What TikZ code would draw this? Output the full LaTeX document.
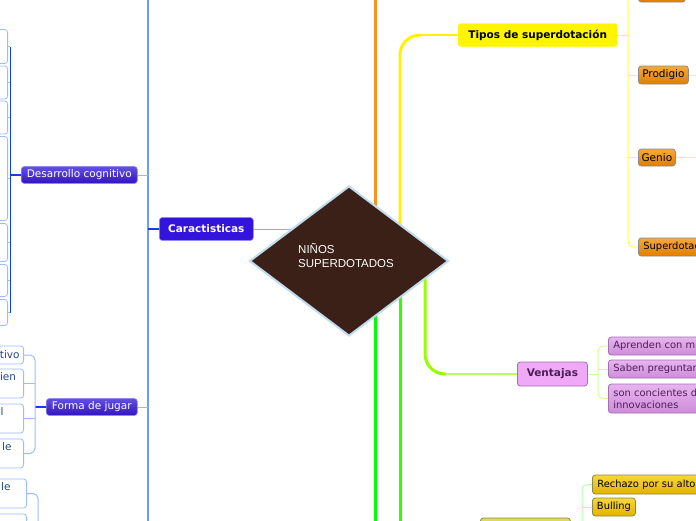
\documentclass[tikz,border=0pt]{standalone}
\usepackage{fontspec}
\newfontfamily\vfont{DejaVu Sans}
\newfontfamily\afont{Liberation Sans}
\usetikzlibrary{shapes.geometric}
\pgfdeclarelayer{bg}
\pgfsetlayers{bg,main}
\definecolor{spineblue}{HTML}{6F9BFF}
\definecolor{darkblue}{HTML}{0F3FF0}
\definecolor{boxblue}{HTML}{9DBBFF}
\definecolor{lbtext}{HTML}{24488A}
\definecolor{catfill}{HTML}{3413DD}
\definecolor{purtop}{HTML}{6150E2}
\definecolor{purbot}{HTML}{3414BE}
\definecolor{purdraw}{HTML}{8C8CF0}
\definecolor{diafill}{HTML}{3A2016}
\definecolor{diadraw}{HTML}{C0DAEE}
\definecolor{orline}{HTML}{F7941D}
\definecolor{yelline}{HTML}{FFF200}
\definecolor{ythin}{HTML}{FFFF50}
\definecolor{grA}{HTML}{00FF00}
\definecolor{grB}{HTML}{33FF00}
\definecolor{grC}{HTML}{99FF00}
\definecolor{gthin}{HTML}{CCFF99}
\definecolor{bthin}{HTML}{B8FFB0}
\definecolor{ortop}{HTML}{F7A83A}
\definecolor{orbot}{HTML}{E07E00}
\definecolor{grayb}{HTML}{8A8A8A}
\definecolor{tipfill}{HTML}{FFF500}
\definecolor{venfill}{HTML}{EFA9F6}
\definecolor{vendraw}{HTML}{A070B0}
\definecolor{ventext}{HTML}{4E1E5A}
\definecolor{vctop}{HTML}{E8B4F0}
\definecolor{vcbot}{HTML}{CE8CD8}
\definecolor{gotop}{HTML}{F7D838}
\definecolor{gobot}{HTML}{E2B200}
\definecolor{olivec}{HTML}{8C8A40}
\definecolor{olfill}{HTML}{E0D860}
\tikzset{
  bx/.style={font=\vfont\fontsize{10.5}{13}\selectfont, rounded corners=3pt, inner sep=0pt, anchor=west},
  smallbx/.style={bx, font=\vfont\fontsize{9.9}{12}\selectfont},
  boldbx/.style={bx, font=\vfont\bfseries\fontsize{10.5}{13}\selectfont},
  catbox/.style={boldbx, fill=catfill, draw=purdraw, line width=0.6pt, text=white},
  purbox/.style={bx, top color=purtop, bottom color=purbot, draw=purdraw, line width=0.6pt, text=white},
  lbox/.style={bx, anchor=east, fill=white, draw=boxblue, line width=0.8pt, text=lbtext, align=right},
  orbox/.style={bx, top color=ortop, bottom color=orbot, draw=grayb, line width=0.8pt, text=black},
  tipbox/.style={boldbx, fill=tipfill, draw=tipfill, text=black},
  venbox/.style={boldbx, fill=venfill, draw=vendraw, line width=0.8pt, text=ventext},
  vcbox/.style={smallbx, top color=vctop, bottom color=vcbot, draw=vendraw, line width=0.8pt, text=ventext, align=left, text width=110pt, inner xsep=5pt},
  gobox/.style={smallbx, top color=gotop, bottom color=gobot, draw=olivec, line width=0.8pt, text=black},
  thick3/.style={line width=3pt},
}
\begin{document}
\begin{tikzpicture}[x=1pt,y=-1pt]
\useasboundingbox (0,0) rectangle (696,520);
\clip (0,0) rectangle (696,520);

% central node
\node[diamond, draw=diadraw, fill=diafill, line width=2pt, minimum width=199pt, minimum height=150pt, inner sep=0pt] (dia) at (349,261) {};
\node[font=\afont\fontsize{11.5}{14}\selectfont, text=white, align=left, anchor=west, inner sep=0pt] (title) at (298,255.5) {NIÑOS\\SUPERDOTADOS};

% left side
\node[catbox, minimum width=94pt, minimum height=23pt] (car) at (159,229) {Caractisticas};
\node[purbox, minimum width=116pt, minimum height=17pt] (des) at (21,175) {Desarrollo cognitivo};
\node[purbox, minimum width=91pt, minimum height=17pt] (for) at (46,407) {Forma de jugar};

\node[lbox, minimum width=50pt, minimum height=34pt] (d1) at (8,46.5) {};
\node[lbox, minimum width=50pt, minimum height=33pt] (d2) at (8,82.5) {};
\node[lbox, minimum width=50pt, minimum height=33pt] (d3) at (8,117.5) {};
\node[lbox, minimum width=50pt, minimum height=84pt] (d4) at (8,178.5) {};
\node[lbox, minimum width=50pt, minimum height=38pt] (d5) at (8,242.5) {};
\node[lbox, minimum width=50pt, minimum height=32pt] (d6) at (8,280.5) {};
\node[lbox, minimum width=50pt, minimum height=26pt] (d7) at (8,312.5) {};

\node[lbox, text width=50pt, inner xsep=4pt, minimum height=18pt] (f1) at (24,355) {tivo};
\node[lbox, text width=50pt, inner xsep=4pt, minimum height=29pt] (f2) at (24,383.5) {ien\rule{3.5pt}{0pt}\\\mbox{}};
\node[lbox, text width=50pt, inner xsep=4pt, minimum height=29pt] (f3) at (24,418.5) {l\rule{16pt}{0pt}\\\mbox{}};
\node[lbox, text width=50pt, inner xsep=4pt, minimum height=29pt] (f4) at (24,453.5) {le\rule{8pt}{0pt}\\\mbox{}};
\node[lbox, text width=50pt, inner xsep=4pt, minimum height=29pt] (b1) at (27,493.5) {le\rule{12pt}{0pt}\\\mbox{}};
\node[lbox, minimum width=50pt, minimum height=29pt] (b2) at (27,528.5) {};

% right side
\node[tipbox, minimum width=159pt, minimum height=23pt] (tip) at (458,35) {Tipos de superdotación};
\node[orbox, minimum width=47pt, minimum height=18pt] (or0) at (638,-7) {};
\node[orbox, minimum width=50pt, minimum height=18pt] (pro) at (638,75) {Prodigio};
\node[orbox, minimum width=37pt, minimum height=17pt] (gen) at (638,157.5) {Genio};
\node[orbox, smallbx, text width=80pt, align=left, inner xsep=5pt, minimum height=18pt] (sup) at (638,247) {Superdotac};

\node[venbox, minimum width=70pt, minimum height=24pt] (ven) at (517,374) {Ventajas};
\node[vcbox, minimum height=18pt] (apr) at (608,346) {Aprenden con m};
\node[vcbox, minimum height=18pt] (sab) at (608,369) {Saben preguntar};
\node[vcbox, minimum height=29pt] (son) at (608,398.5) {son concientes d\\innovaciones};

\node[gobox, text width=120pt, align=left, inner xsep=5pt, minimum height=19pt] (rec) at (592,484.5) {Rechazo por su alto};
\node[gobox, minimum width=43pt, minimum height=18pt] (bul) at (592,507) {Bulling};
\node[bx, fill=olfill, draw=olivec, line width=0.8pt, minimum width=90pt, minimum height=25pt] (oth) at (480,530.5) {};

\begin{pgfonlayer}{bg}
\clip (0,0) rectangle (696,520);
% blue branch
\coordinate (sp) at (148,229);
\coordinate (spt) at (148,-5);
\coordinate (spb) at (148,525);
\draw[spineblue, line width=1.6pt] (spt) -- (spb);
\draw[darkblue, line width=1.2pt] (car.west) -- (car.west -| sp);
\draw[spineblue!80, line width=1pt] (car.east) -- (car.east -| dia.center);
\draw[spineblue!70, line width=1pt] (des.east) -- (des.east -| sp);
\draw[spineblue!70, line width=1pt] (for.east) -- (for.east -| sp);

\coordinate (ds) at (10,175);
\draw[darkblue, line width=1.2pt] (des.west) -- (ds);
\draw[darkblue, line width=1pt] (d1.east -| ds) -- (d7.east -| ds);
\foreach \n in {d1,d2,d3,d4,d5,d6,d7} \draw[boxblue, line width=1pt] (\n.east) -- (\n.east -| ds);

\coordinate (fs) at (35,407);
\draw[darkblue, line width=1.2pt] (for.west) -- (fs);
\draw[boxblue, line width=1pt, rounded corners=5pt] (f1.east) -- (f1.east -| fs) -- (f4.east -| fs) -- (f4.east);
\draw[boxblue, line width=1pt] (f2.east) -- (f2.east -| fs);
\draw[boxblue, line width=1pt] (f3.east) -- (f3.east -| fs);

\coordinate (bs) at (38,500);
\coordinate (bsb) at (38,525);
\draw[boxblue, line width=1pt, rounded corners=5pt] (b1.east) -- (b1.east -| bs) -- (bsb);
\draw[boxblue, line width=1pt] (b2.east) -- (b2.east -| bs);

% main coloured branches
\coordinate (oA) at (375,261);
\coordinate (oT) at (375,-5);
\coordinate (gAb) at (375,525);
\coordinate (yB) at (400,261);
\coordinate (yC) at (400,35);
\coordinate (yD) at (421,35);
\coordinate (yE) at (419,35);
\coordinate (gBb) at (400,525);
\coordinate (cA) at (425,261);
\coordinate (cB) at (425,374);
\coordinate (cC) at (446,374);
\coordinate (cD) at (444,374);
\draw[orline, thick3] (oA) -- (oT);
\draw[grA, thick3] (oA) -- (gAb);
\draw[grB, thick3] (yB) -- (gBb);
\draw[yelline, line width=1.5pt] (yE) -- (tip.west);
\draw[yelline, thick3, rounded corners=20pt] (yB) -- (yC) -- (yD);
\draw[gthin!60!grC, line width=1.5pt] (cD) -- (ven.west);
\draw[grC, thick3, rounded corners=20pt] (cA) -- (cB) -- (cC);

% Tipos children
\coordinate (ts) at (628,35);
\draw[ythin, line width=1pt] (tip.east) -- (ts);
\draw[ythin, line width=1pt, rounded corners=5pt] (or0.west) -- (or0.west -| ts) -- (sup.west -| ts) -- (sup.west);
\draw[ythin, line width=1pt] (pro.west -| ts) -- (pro.west);
\draw[ythin, line width=1pt] (gen.west -| ts) -- (gen.west);
\draw[ythin, line width=1pt] (gen.east) -- ++(30,0);
\draw[ythin, line width=1pt] (pro.east) -- ++(20,0);

% Ventajas children
\coordinate (vs) at (598,374);
\draw[gthin, line width=1pt] (ven.east) -- (vs);
\draw[gthin, line width=1pt, rounded corners=5pt] (apr.west) -- (apr.west -| vs) -- (son.west -| vs) -- (son.west);
\draw[gthin, line width=1pt] (sab.west -| vs) -- (sab.west);

% bottom children
\coordinate (rs) at (582,500);
\coordinate (rsb) at (582,525);
\draw[bthin, line width=1pt, rounded corners=5pt] (rec.west) -- (rec.west -| rs) -- (rsb);
\draw[bthin, line width=1pt] (bul.west -| rs) -- (bul.west);
\end{pgfonlayer}
\end{tikzpicture}
\end{document}
